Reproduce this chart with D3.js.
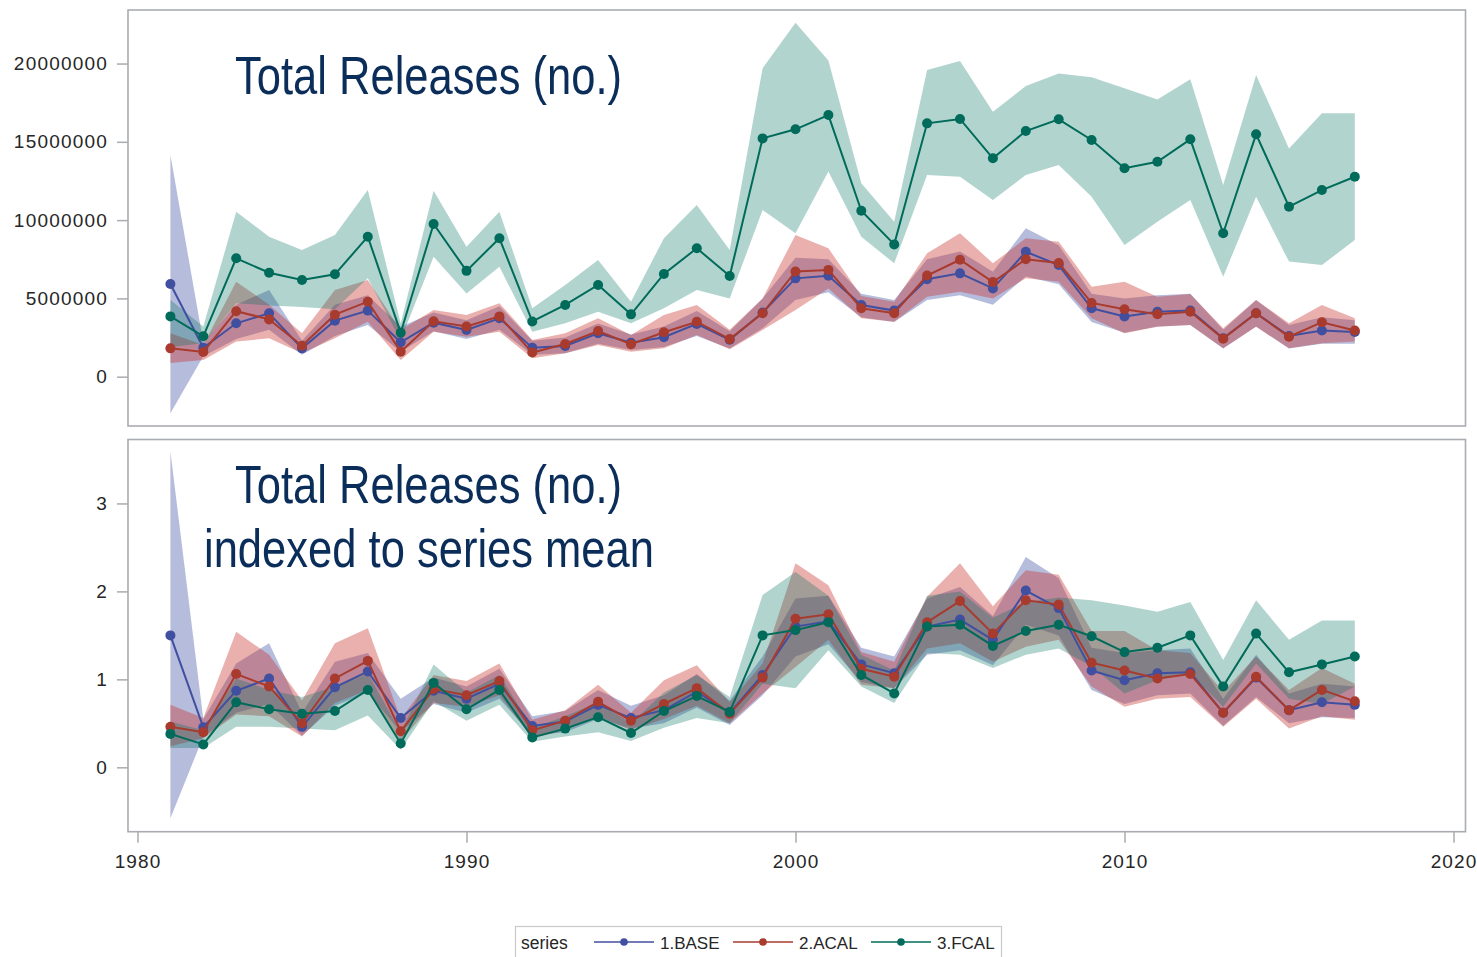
<!DOCTYPE html>
<html>
<head>
<meta charset="utf-8">
<script src="https://cdn.jsdelivr.net/npm/d3@7"></script>
<style>
  html, body { margin: 0; padding: 0; background: #ffffff; }
  svg { display: block; }
  .tick text { font-family: "Liberation Sans", Arial, sans-serif; fill: #262626; }
</style>
</head>
<body>
<svg id="chart" width="1477" height="957"></svg>
<script>
// ---- data -------------------------------------------------------------
const years = [1981,1982,1983,1984,1985,1986,1987,1988,1989,1990,1991,1992,1993,1994,1995,1996,1997,1998,1999,
               2000,2001,2002,2003,2004,2005,2006,2007,2008,2009,2010,2011,2012,2013,2014,2015,2016,2017];

const seriesNames = ["1.BASE", "2.ACAL", "3.FCAL"];
const seriesColors = ["#414fa0", "#a83a2e", "#006b5a"];
const bandColors = ["rgba(62,80,160,0.38)", "rgba(197,47,42,0.38)", "rgba(0,112,95,0.30)"];

// Total releases (number of fish)
const baseTotal = [5920000,1850000,3410000,4050000,1810000,3580000,4220000,2200000,3450000,2980000,3730000,1850000,1960000,2770000,2170000,2520000,3370000,2360000,4100000,
                   6280000,6450000,4580000,4220000,6220000,6600000,5640000,7980000,7130000,4370000,3850000,4150000,4220000,2450000,4050000,2600000,2950000,2850000];
const baseTotalLo = [-2340000,1300000,2400000,3000000,1400000,2600000,3300000,1600000,2900000,2400000,3000000,1400000,1500000,2100000,1700000,1900000,2600000,1800000,3100000,
                     4900000,5400000,3800000,3500000,4900000,5200000,4600000,6400000,5900000,3500000,2800000,3200000,3300000,1800000,3200000,1800000,2100000,2100000];
const baseTotalHi = [14160000,2200000,4600000,5540000,2300000,4600000,5200000,3190000,4100000,3600000,4500000,2300000,2500000,3400000,2700000,3200000,4200000,2900000,5000000,
                     7600000,7500000,5300000,4900000,7500000,8000000,6700000,9480000,8400000,5300000,5000000,5200000,5300000,3000000,4900000,3300000,3800000,3600000];

const acalTotal = [1810000,1580000,4180000,3660000,1980000,3960000,4790000,1600000,3540000,3200000,3850000,1540000,2090000,2920000,2070000,2840000,3510000,2400000,4050000,
                   6720000,6820000,4370000,4050000,6460000,7470000,6040000,7500000,7260000,4710000,4310000,3990000,4150000,2430000,4050000,2550000,3480000,2950000];
const acalTotalLo = [870000,1070000,2240000,2450000,1490000,2450000,3510000,1070000,2870000,2550000,2870000,1170000,1490000,2020000,1600000,1810000,2660000,1750000,2980000,
                     4260000,5640000,3730000,3510000,5110000,5430000,5000000,6280000,6070000,3730000,2770000,3190000,3300000,1810000,3190000,1810000,2130000,2240000];
const acalTotalHi = [2770000,2020000,6070000,4600000,2770000,5540000,6170000,2980000,4260000,3940000,4690000,2340000,2770000,3730000,2660000,3940000,4580000,3000000,5000000,
                     9050000,8200000,5150000,4790000,7880000,9160000,7240000,8840000,8620000,5750000,6070000,5110000,5280000,3090000,4900000,3410000,4580000,3730000];

const fcalTotal = [3850000,2580000,7560000,6640000,6170000,6540000,8940000,2810000,9750000,6760000,8840000,3530000,4580000,5860000,3980000,6560000,8200000,6430000,15220000,
                   15800000,16710000,10600000,8450000,16180000,16460000,13950000,15690000,16440000,15120000,13310000,13730000,15160000,9160000,15480000,10860000,11920000,12770000];
const fcalTotalLo = [1900000,2130000,4690000,4550000,4450000,4300000,6280000,2340000,7660000,5320000,7020000,2870000,3410000,4150000,3410000,4370000,5540000,5000000,10640000,
                     9160000,13100000,8940000,7240000,12880000,12770000,11280000,12880000,13520000,11490000,8410000,9900000,11280000,6390000,11490000,7350000,7130000,8730000];
const fcalTotalHi = [4900000,3200000,10540000,8940000,8090000,9050000,11920000,3400000,11880000,8300000,10540000,4370000,5860000,7450000,4790000,8840000,10960000,8090000,19700000,
                     22600000,20200000,12350000,9900000,19580000,20160000,16920000,18560000,19370000,19120000,18420000,17710000,18990000,12240000,19270000,14580000,16820000,16820000];

// Total releases indexed to each series' mean
const baseIndex = [1.50,0.455,0.87,1.01,0.46,0.91,1.09,0.56,0.87,0.78,0.95,0.47,0.52,0.71,0.56,0.65,0.86,0.62,1.05,
                   1.60,1.66,1.17,1.07,1.60,1.68,1.45,2.01,1.81,1.10,0.99,1.07,1.08,0.62,1.02,0.65,0.74,0.71];
const baseIndexLo = [-0.58,0.35,0.62,0.72,0.36,0.70,0.85,0.40,0.72,0.62,0.78,0.36,0.40,0.55,0.44,0.50,0.68,0.48,0.82,
                     1.26,1.40,0.97,0.90,1.28,1.33,1.16,1.62,1.50,0.88,0.72,0.82,0.84,0.47,0.80,0.50,0.57,0.56];
const baseIndexHi = [3.59,0.55,1.18,1.41,0.62,1.20,1.30,0.78,1.02,0.92,1.12,0.58,0.64,0.88,0.70,0.82,1.06,0.76,1.26,
                     1.92,1.95,1.36,1.26,1.92,2.05,1.72,2.39,2.15,1.36,1.30,1.33,1.35,0.78,1.28,0.84,0.95,0.92];

const acalIndex = [0.46,0.40,1.06,0.92,0.50,1.01,1.21,0.41,0.89,0.82,0.98,0.42,0.53,0.745,0.53,0.72,0.90,0.61,1.02,
                   1.69,1.74,1.12,1.03,1.65,1.89,1.52,1.90,1.85,1.19,1.10,1.01,1.06,0.62,1.03,0.65,0.88,0.75];
const acalIndexLo = [0.24,0.33,0.60,0.58,0.35,0.73,0.88,0.30,0.73,0.69,0.82,0.33,0.42,0.58,0.42,0.55,0.70,0.50,0.84,
                     1.14,1.45,0.94,0.90,1.35,1.41,1.20,1.37,1.45,0.92,0.69,0.78,0.80,0.46,0.78,0.44,0.58,0.54];
const acalIndexHi = [0.71,0.56,1.54,1.28,0.76,1.41,1.58,0.55,1.05,0.98,1.18,0.54,0.65,0.94,0.62,0.99,1.16,0.74,1.18,
                     2.32,2.07,1.31,1.20,1.94,2.32,1.83,2.24,2.19,1.55,1.55,1.33,1.30,0.86,1.26,0.88,1.13,0.95];

const fcalIndex = [0.38,0.26,0.74,0.66,0.61,0.64,0.88,0.27,0.96,0.66,0.88,0.34,0.44,0.57,0.39,0.64,0.81,0.63,1.50,
                   1.56,1.65,1.05,0.84,1.60,1.62,1.38,1.55,1.62,1.49,1.31,1.36,1.50,0.92,1.52,1.08,1.17,1.26];
const fcalIndexLo = [0.22,0.22,0.46,0.46,0.44,0.42,0.59,0.20,0.75,0.53,0.71,0.29,0.35,0.40,0.30,0.45,0.56,0.50,0.95,
                     0.90,1.33,0.92,0.73,1.30,1.28,1.13,1.28,1.35,1.15,0.84,0.99,1.07,0.69,1.18,0.78,0.72,0.92];
const fcalIndexHi = [0.52,0.42,1.01,0.88,0.80,0.92,1.07,0.40,1.17,0.85,1.05,0.45,0.58,0.74,0.50,0.85,1.05,0.80,1.96,
                     2.22,1.95,1.28,1.10,1.95,2.00,1.70,1.88,1.93,1.90,1.84,1.77,1.88,1.22,1.90,1.45,1.67,1.67];

const xTicks = [1980, 1990, 2000, 2010, 2020];
const topTicks = [0, 5000000, 10000000, 15000000, 20000000];
const bottomTicks = [0, 1, 2, 3];

// ---- layout -----------------------------------------------------------
const svg = d3.select("#chart");
const frameL = 128, frameR = 1465.5;
const panels = [
  { top: 10, bottom: 426, domain: [-3150000, 23420000], ticks: topTicks,
    series: [[baseTotal, baseTotalLo, baseTotalHi], [acalTotal, acalTotalLo, acalTotalHi], [fcalTotal, fcalTotalLo, fcalTotalHi]] },
  { top: 439.5, bottom: 831.7, domain: [-0.732, 3.727], ticks: bottomTicks,
    series: [[baseIndex, baseIndexLo, baseIndexHi], [acalIndex, acalIndexLo, acalIndexHi], [fcalIndex, fcalIndexLo, fcalIndexHi]] }
];

const x = d3.scaleLinear().domain([1980, 2020]).range([137.5, 1453.5]);
const frameColor = "#a9acb0";

panels.forEach((p, pi) => {
  const y = d3.scaleLinear().domain(p.domain).range([p.bottom, p.top]);
  const clipId = "clip" + pi;
  svg.append("clipPath").attr("id", clipId)
    .append("rect").attr("x", frameL).attr("y", p.top).attr("width", frameR - frameL).attr("height", p.bottom - p.top);

  const plot = svg.append("g").attr("clip-path", `url(#${clipId})`);

  // confidence bands
  p.series.forEach(([vals, lo, hi], si) => {
    const rows = years.map((yr, i) => ({ yr, lo: lo[i], hi: hi[i] }));
    const area = d3.area().x(d => x(d.yr)).y0(d => y(d.lo)).y1(d => y(d.hi));
    plot.append("path").datum(rows).attr("d", area).attr("fill", bandColors[si]).attr("stroke", "none");
  });

  // series lines with markers
  p.series.forEach(([vals], si) => {
    const rows = years.map((yr, i) => ({ yr, v: vals[i] }));
    const line = d3.line().x(d => x(d.yr)).y(d => y(d.v));
    plot.append("path").datum(rows).attr("d", line)
      .attr("fill", "none").attr("stroke", seriesColors[si]).attr("stroke-width", 2);
    plot.append("g").selectAll("circle").data(rows).join("circle")
      .attr("cx", d => x(d.yr)).attr("cy", d => y(d.v)).attr("r", 5)
      .attr("fill", seriesColors[si]);
  });

  // y axis
  const yAxis = d3.axisLeft(y).tickValues(p.ticks).tickSize(11).tickPadding(9).tickFormat(d3.format("d"));
  const ga = svg.append("g").attr("transform", `translate(${frameL},0)`).call(yAxis);
  ga.select(".domain").remove();
  ga.selectAll(".tick line").attr("stroke", frameColor).attr("stroke-width", 1.5);
  ga.selectAll(".tick text").attr("font-size", 19).attr("letter-spacing", "1.2px");

  // frame
  svg.append("rect").attr("x", frameL).attr("y", p.top).attr("width", frameR - frameL).attr("height", p.bottom - p.top)
    .attr("fill", "none").attr("stroke", frameColor).attr("stroke-width", 1.6);

  if (pi === 1) {
    const xAxis = d3.axisBottom(x).tickValues(xTicks).tickSize(11).tickPadding(12).tickFormat(d3.format("d"));
    const gx = svg.append("g").attr("transform", `translate(0,${p.bottom})`).call(xAxis);
    gx.select(".domain").remove();
    gx.selectAll(".tick line").attr("stroke", frameColor).attr("stroke-width", 1.5);
    gx.selectAll(".tick text").attr("font-size", 19).attr("letter-spacing", "1.1px");
  }
});

// ---- panel titles -----------------------------------------------------
const titleFont = '"Liberation Sans Narrow", "Arial Narrow", "Liberation Sans", Arial, sans-serif';
const titleColor = "#0b2d5a";
const titles = [
  { text: "Total Releases (no.)", x: 235, y: 94, w: 387 },
  { text: "Total Releases (no.)", x: 235, y: 503, w: 387 },
  { text: "indexed to series mean", x: 204, y: 567, w: 450 }
];
svg.append("g").selectAll("text").data(titles).join("text")
  .attr("x", d => d.x).attr("y", d => d.y)
  .attr("textLength", d => d.w).attr("lengthAdjust", "spacingAndGlyphs")
  .attr("font-family", titleFont).attr("font-size", 53).attr("fill", titleColor)
  .text(d => d.text);

// ---- legend -----------------------------------------------------------
const legend = svg.append("g");
legend.append("rect").attr("x", 515.5).attr("y", 926.5).attr("width", 486).attr("height", 40)
  .attr("fill", "#ffffff").attr("stroke", "#c9c9c9").attr("stroke-width", 1.2);
legend.append("text").attr("x", 521).attr("y", 948.5).text("series")
  .attr("font-family", '"Liberation Sans", Arial, sans-serif').attr("font-size", 17.5).attr("fill", "#262626");
const legendX = [594, 733, 871];
seriesNames.forEach((name, i) => {
  const lx = legendX[i];
  legend.append("line").attr("x1", lx).attr("x2", lx + 60).attr("y1", 942).attr("y2", 942)
    .attr("stroke", seriesColors[i]).attr("stroke-width", 1.6);
  legend.append("circle").attr("cx", lx + 30).attr("cy", 942).attr("r", 3.8).attr("fill", seriesColors[i]);
  legend.append("text").attr("x", lx + 66).attr("y", 948.5).text(name)
    .attr("font-family", '"Liberation Sans", Arial, sans-serif').attr("font-size", 17)
    .attr("fill", "#262626");
});
</script>
</body>
</html>
